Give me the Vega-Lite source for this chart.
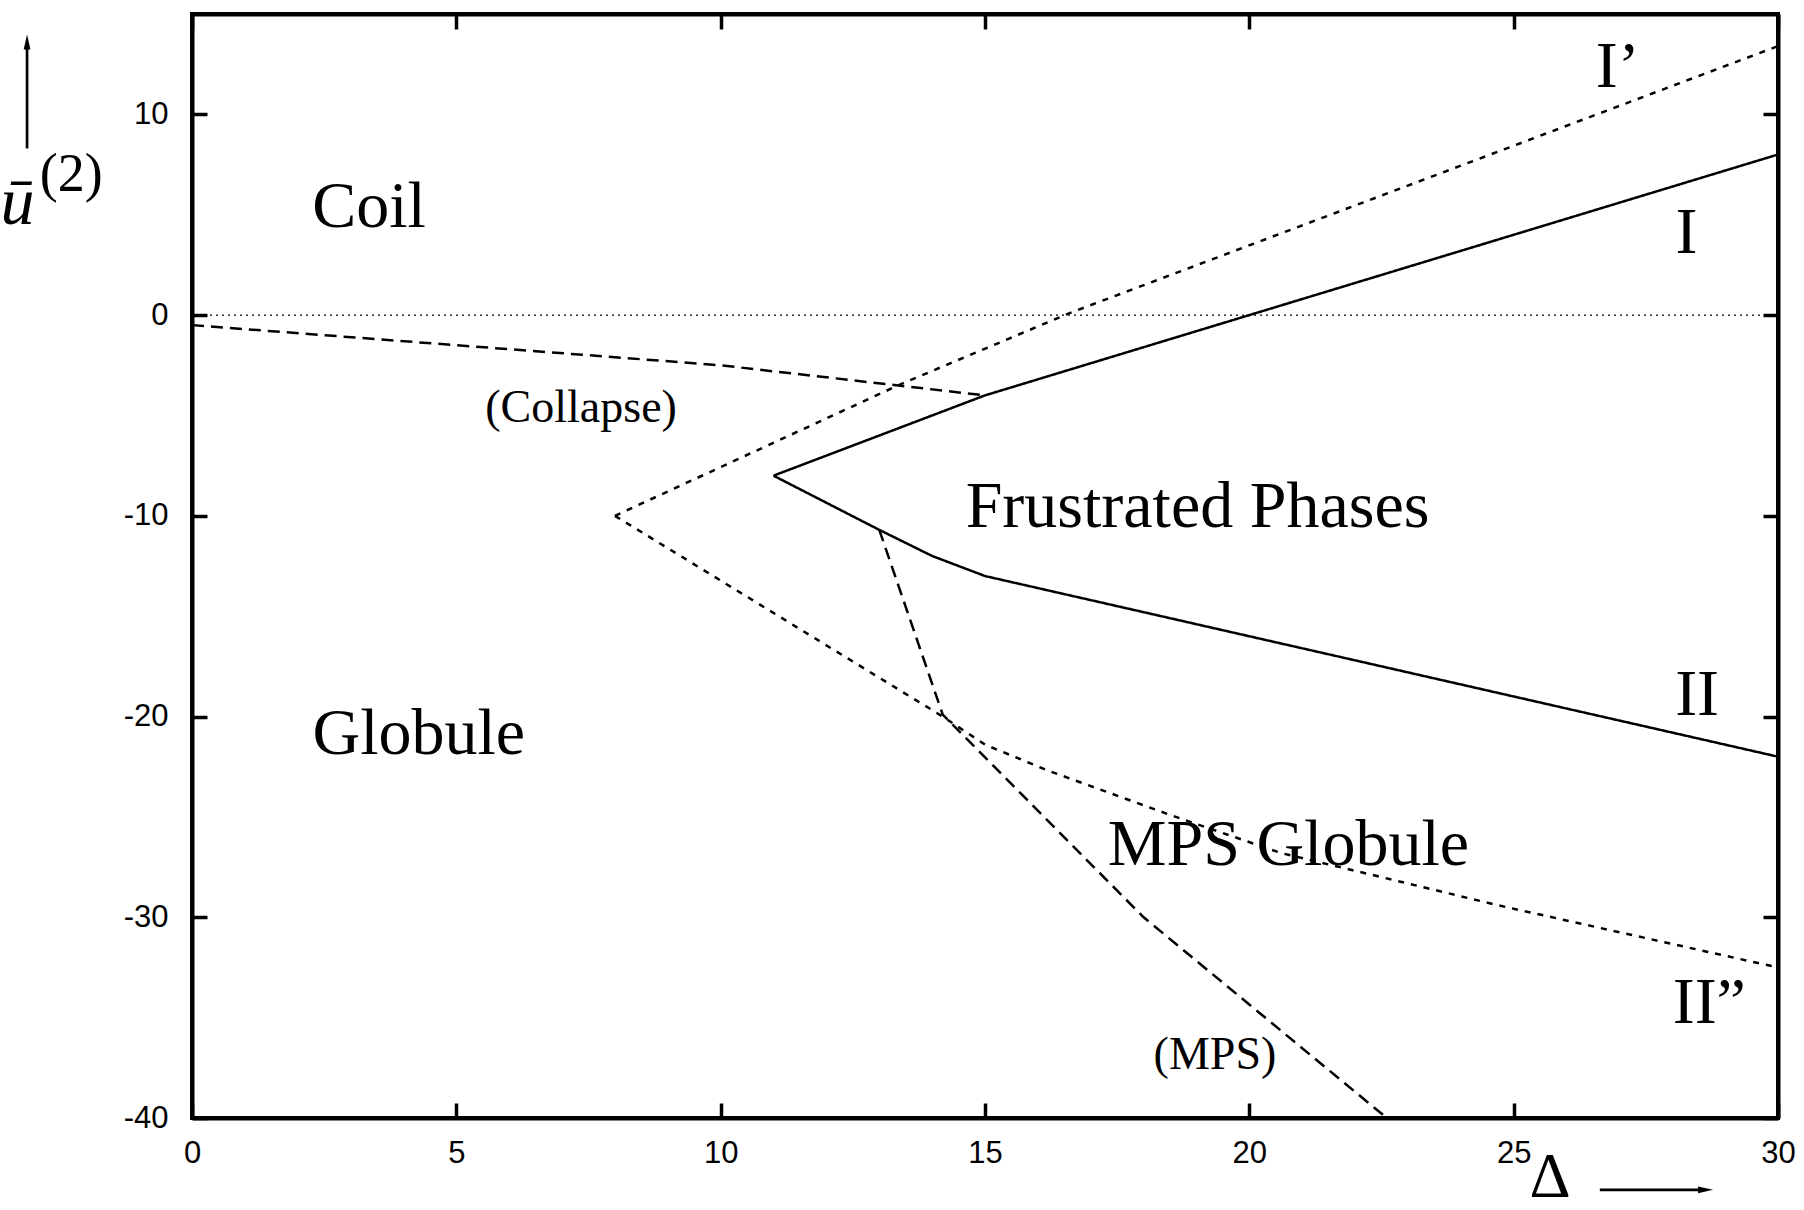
{
  "$schema": "https://vega.github.io/schema/vega-lite/v6.json",
  "width": 1586,
  "height": 1104,
  "autosize": {"type": "none"},
  "padding": {"left": 192, "top": 14, "right": 26, "bottom": 92},
  "background": "white",
  "config": {
    "view": {"stroke": "black", "strokeWidth": 4},
    "axis": {
      "grid": false,
      "title": null,
      "domainColor": "black",
      "domainWidth": 4,
      "tickColor": "black",
      "tickWidth": 3.5,
      "tickSize": -15,
      "labelFont": "Liberation Sans",
      "labelFontSize": 31,
      "labelColor": "black",
      "labelFlush": false,
      "labelOverlap": false,
      "labelBound": false,
      "labelExpr": "replace(datum.label, '−', '-')"
    },
    "text": {"font": "Liberation Serif", "color": "black"}
  },
  "datasets": {
    "curves": [
      {"curve": "I", "delta": 11, "u2": -8},
      {"curve": "I", "delta": 15, "u2": -4},
      {"curve": "I", "delta": 30, "u2": 8},
      {"curve": "II", "delta": 11, "u2": -8},
      {"curve": "II", "delta": 12, "u2": -9.35},
      {"curve": "II", "delta": 13, "u2": -10.7},
      {"curve": "II", "delta": 14, "u2": -12},
      {"curve": "II", "delta": 15, "u2": -13},
      {"curve": "II", "delta": 30, "u2": -22},
      {"curve": "I’", "delta": 8, "u2": -10},
      {"curve": "I’", "delta": 13.4, "u2": -3.45},
      {"curve": "I’", "delta": 16.6, "u2": 0.1},
      {"curve": "I’", "delta": 30, "u2": 13.4},
      {"curve": "II”", "delta": 8, "u2": -10},
      {"curve": "II”", "delta": 14.2, "u2": -20},
      {"curve": "II”", "delta": 15, "u2": -21.4},
      {"curve": "II”", "delta": 16.2, "u2": -22.7},
      {"curve": "II”", "delta": 18.5, "u2": -24.9},
      {"curve": "II”", "delta": 20.6, "u2": -26.8},
      {"curve": "II”", "delta": 22.5, "u2": -28},
      {"curve": "II”", "delta": 24.7, "u2": -29.4},
      {"curve": "II”", "delta": 30, "u2": -32.5},
      {"curve": "Collapse", "delta": 0, "u2": -0.5},
      {"curve": "Collapse", "delta": 10, "u2": -2.5},
      {"curve": "Collapse", "delta": 15, "u2": -4},
      {"curve": "MPS", "delta": 13, "u2": -10.7},
      {"curve": "MPS", "delta": 14.2, "u2": -19.9},
      {"curve": "MPS", "delta": 18, "u2": -30},
      {"curve": "MPS", "delta": 22.6, "u2": -40}
    ],
    "regions": [
      {"label": "Coil", "delta": 3.35, "u2": 4.4},
      {"label": "Globule", "delta": 4.29, "u2": -21.87},
      {"label": "Frustrated Phases", "delta": 19.02, "u2": -10.55},
      {"label": "MPS Globule", "delta": 20.74, "u2": -27.41},
      {"label": "I’", "delta": 26.97, "u2": 11.34},
      {"label": "I", "delta": 28.27, "u2": 3.1},
      {"label": "II", "delta": 28.47, "u2": -19.93},
      {"label": "II”", "delta": 28.7, "u2": -35.29}
    ],
    "notes": [
      {"label": "(Collapse)", "delta": 7.36, "u2": -5.32},
      {"label": "(MPS)", "delta": 19.35, "u2": -37.58}
    ]
  },
  "layer": [
    {
      "data": {"name": "curves"},
      "mark": {"type": "line", "color": "black", "strokeWidth": 2.5, "strokeCap": "butt"},
      "encoding": {
        "x": {
          "field": "delta", "type": "quantitative",
          "scale": {"domain": [0, 30], "nice": false, "zero": false},
          "axis": {"orient": "bottom", "values": [0, 5, 10, 15, 20, 25, 30], "labelPadding": 35}
        },
        "y": {
          "field": "u2", "type": "quantitative",
          "scale": {"domain": [-40, 15], "nice": false, "zero": false},
          "axis": {"orient": "left", "values": [-40, -30, -20, -10, 0, 10], "labelPadding": 39}
        },
        "detail": {"field": "curve"},
        "strokeDash": {
          "field": "curve", "type": "nominal",
          "scale": {
            "domain": ["I", "II", "I’", "II”", "Collapse", "MPS"],
            "range": [[1, 0], [1, 0], [6, 7], [6, 7], [12, 7], [12, 7]]
          },
          "legend": null
        }
      }
    },
    {
      "data": {"values": [{"from": 0, "to": 30, "level": 0}]},
      "mark": {"type": "rule", "color": "black", "strokeWidth": 1.2, "strokeDash": [2, 4]},
      "encoding": {
        "x": {
          "field": "from", "type": "quantitative",
          "scale": {"domain": [0, 30], "nice": false, "zero": false},
          "axis": {"orient": "top", "values": [0, 5, 10, 15, 20, 25, 30], "labels": false}
        },
        "x2": {"field": "to"},
        "y": {
          "field": "level", "type": "quantitative",
          "scale": {"domain": [-40, 15], "nice": false, "zero": false},
          "axis": {"orient": "right", "values": [-40, -30, -20, -10, 0, 10], "labels": false}
        }
      }
    },
    {
      "data": {"name": "regions"},
      "mark": {"type": "text", "fontSize": 66, "align": "center", "baseline": "alphabetic"},
      "encoding": {
        "x": {"field": "delta", "type": "quantitative", "scale": {"domain": [0, 30], "nice": false, "zero": false}, "axis": null},
        "y": {"field": "u2", "type": "quantitative", "scale": {"domain": [-40, 15], "nice": false, "zero": false}, "axis": null},
        "text": {"field": "label"}
      }
    },
    {
      "data": {"name": "notes"},
      "mark": {"type": "text", "fontSize": 46, "align": "center", "baseline": "alphabetic"},
      "encoding": {
        "x": {"field": "delta", "type": "quantitative", "scale": {"domain": [0, 30], "nice": false, "zero": false}, "axis": null},
        "y": {"field": "u2", "type": "quantitative", "scale": {"domain": [-40, 15], "nice": false, "zero": false}, "axis": null},
        "text": {"field": "label"}
      }
    },
    {
      "data": {"values": [{"label": "ū", "delta": -3.3, "u2": 4.55}]},
      "mark": {"type": "text", "fontSize": 68, "fontStyle": "italic", "align": "center", "baseline": "alphabetic"},
      "encoding": {
        "x": {"field": "delta", "type": "quantitative", "scale": {"domain": [0, 30], "nice": false, "zero": false}, "axis": null},
        "y": {"field": "u2", "type": "quantitative", "scale": {"domain": [-40, 15], "nice": false, "zero": false}, "axis": null},
        "text": {"field": "label"}
      }
    },
    {
      "data": {"values": [{"label": "(2)", "delta": -2.88, "u2": 6.2}]},
      "mark": {"type": "text", "fontSize": 54, "align": "left", "baseline": "alphabetic"},
      "encoding": {
        "x": {"field": "delta", "type": "quantitative", "scale": {"domain": [0, 30], "nice": false, "zero": false}, "axis": null},
        "y": {"field": "u2", "type": "quantitative", "scale": {"domain": [-40, 15], "nice": false, "zero": false}, "axis": null},
        "text": {"field": "label"}
      }
    },
    {
      "data": {"values": [{"label": "Δ", "delta": 25.69, "u2": -43.93}]},
      "mark": {"type": "text", "fontSize": 64, "align": "center", "baseline": "alphabetic"},
      "encoding": {
        "x": {"field": "delta", "type": "quantitative", "scale": {"domain": [0, 30], "nice": false, "zero": false}, "axis": null},
        "y": {"field": "u2", "type": "quantitative", "scale": {"domain": [-40, 15], "nice": false, "zero": false}, "axis": null},
        "text": {"field": "label"}
      }
    },
    {
      "data": {"values": [
        {"x0": -3.12, "x1": -3.12, "y0": 8.3, "y1": 13.3},
        {"x0": 26.63, "x1": 28.5, "y0": -43.58, "y1": -43.58}
      ]},
      "mark": {"type": "rule", "color": "black", "strokeWidth": 2.7},
      "encoding": {
        "x": {"field": "x0", "type": "quantitative", "scale": {"domain": [0, 30], "nice": false, "zero": false}, "axis": null},
        "x2": {"field": "x1"},
        "y": {"field": "y0", "type": "quantitative", "scale": {"domain": [-40, 15], "nice": false, "zero": false}, "axis": null},
        "y2": {"field": "y1"}
      }
    },
    {
      "data": {"values": [{"delta": -3.12, "u2": 13.61}]},
      "mark": {"type": "point", "shape": "M0,-1L0.45,1L-0.45,1Z", "size": 225, "filled": true, "color": "black", "opacity": 1, "strokeWidth": 0},
      "encoding": {
        "x": {"field": "delta", "type": "quantitative", "scale": {"domain": [0, 30], "nice": false, "zero": false}, "axis": null},
        "y": {"field": "u2", "type": "quantitative", "scale": {"domain": [-40, 15], "nice": false, "zero": false}, "axis": null}
      }
    },
    {
      "data": {"values": [{"delta": 28.63, "u2": -43.58}]},
      "mark": {"type": "point", "shape": "M1,0L-1,-0.45L-1,0.45Z", "size": 225, "filled": true, "color": "black", "opacity": 1, "strokeWidth": 0},
      "encoding": {
        "x": {"field": "delta", "type": "quantitative", "scale": {"domain": [0, 30], "nice": false, "zero": false}, "axis": null},
        "y": {"field": "u2", "type": "quantitative", "scale": {"domain": [-40, 15], "nice": false, "zero": false}, "axis": null}
      }
    }
  ],
  "resolve": {"axis": {"x": "independent", "y": "independent"}}
}
